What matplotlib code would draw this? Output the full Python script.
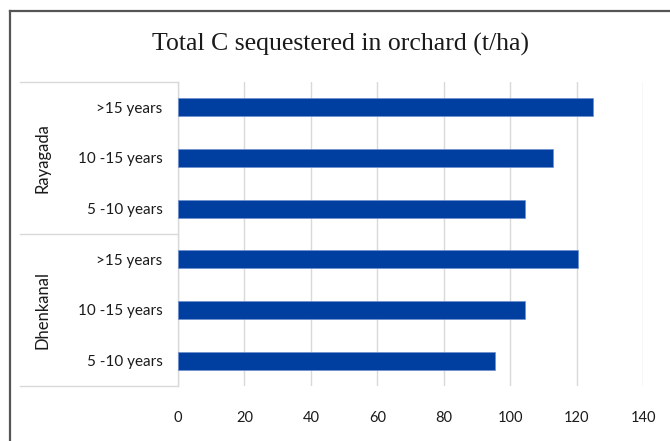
import matplotlib.pyplot as plt
from matplotlib.lines import Line2D

# data, listed bottom to top
categories = ['5 -10 years', '10 -15 years', '>15 years',
              '5 -10 years', '10 -15 years', '>15 years']
values = [95.5, 104.5, 120.5, 104.5, 113, 125]
groups = ['Dhenkanal', 'Rayagada']
x_ticks = [0, 20, 40, 60, 80, 100, 120, 140]

bar_color = '#003f9f'
line_gray = '#d9d9d9'
text_color = '#1a1a1a'

fig = plt.figure(figsize=(6.7, 4.41), dpi=100)
W, H = 670, 441
ax = fig.add_axes([178 / W, (H - 386) / H, (643 - 178) / W, (386 - 82) / H])

pos = list(range(len(values)))
ax.barh(pos, values, height=0.35, color=bar_color, edgecolor='#6f8fd0',
        linewidth=0.5, zorder=3)

ax.set_xlim(0, 140)
ax.set_ylim(-0.5, 5.5)
ax.set_xticks(x_ticks)
ax.set_yticks(pos)
ax.set_yticklabels(categories, fontfamily='Lato', fontsize=11, color=text_color)
ax.set_xticklabels([str(t) for t in x_ticks], fontfamily='Lato', fontsize=10.5,
                   color=text_color)
ax.tick_params(axis='y', length=0, pad=11)
ax.tick_params(axis='x', length=0, pad=18)
ax.grid(axis='x', color=line_gray, linewidth=1, zorder=0)

for s in ['top', 'right', 'bottom']:
    ax.spines[s].set_visible(False)
ax.spines['left'].set_color(line_gray)
ax.spines['left'].set_linewidth(1)

# category box lines on the left
yt = ax.get_yaxis_transform()
x0 = (20 - 178) / (643 - 178)
for yy in [-0.5, 2.5, 5.5]:
    ax.plot([x0, 0], [yy, yy], color=line_gray, linewidth=1,
            transform=yt, clip_on=False)

# group labels
for i, g in enumerate(groups):
    ax.text((42 - 178) / (643 - 178), 1 + 3 * i, g, transform=yt,
            rotation=90, ha='center', va='center', fontfamily='Lato',
            fontsize=12, color=text_color)

fig.text(341 / W, 1 - 44 / H, 'Total C sequestered in orchard (t/ha)',
         ha='center', va='center', fontfamily='Liberation Serif',
         fontsize=18.5, color=text_color)

# outer frame (left and top only)
fig.add_artist(Line2D([9.5 / W, 9.5 / W], [0, 1 - 10.5 / H],
                      transform=fig.transFigure, color='#555555', linewidth=1.6))
fig.add_artist(Line2D([9.5 / W, 1], [1 - 10.5 / H, 1 - 10.5 / H],
                      transform=fig.transFigure, color='#555555', linewidth=1.6))

fig.savefig('out.png', dpi=100)
